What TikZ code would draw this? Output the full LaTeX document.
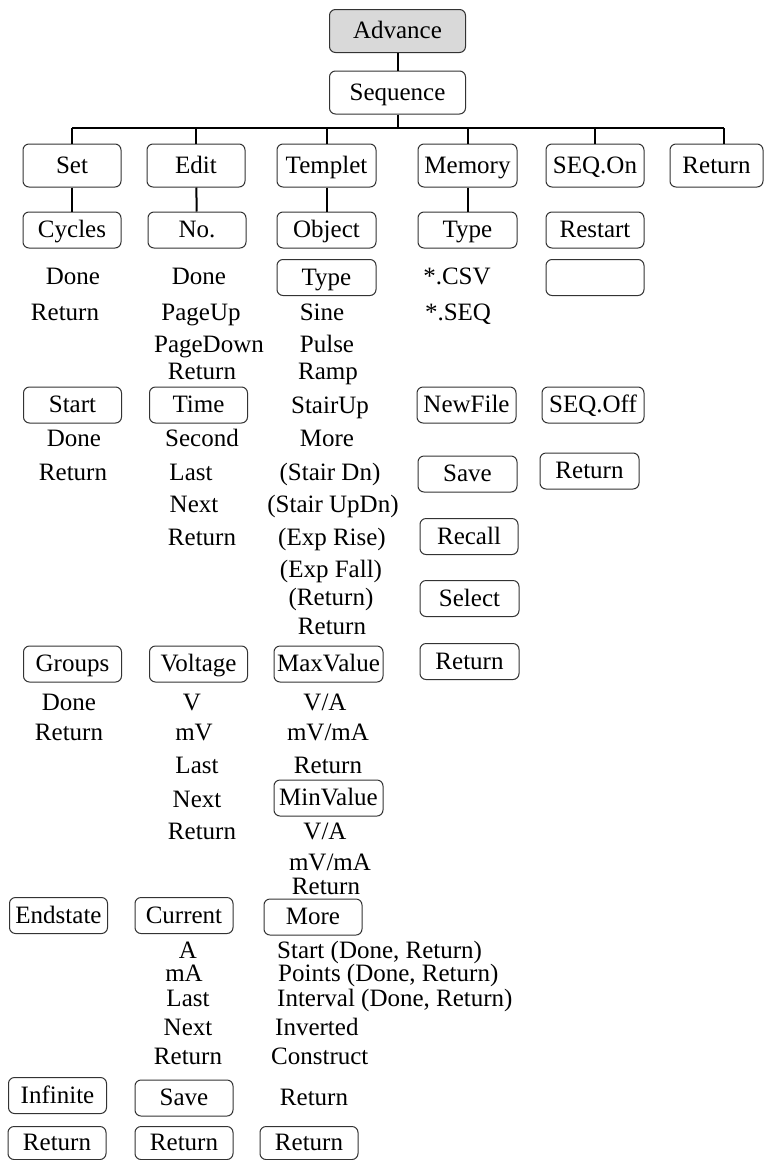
\documentclass[tikz,border=0pt]{standalone}
\usepackage{fontspec}
\setmainfont{Liberation Serif}
\usetikzlibrary{positioning}
\tikzset{menu/.style = {draw=black!80, rounded corners=6pt, line width=1pt,
                        inner sep=0pt, minimum width=98pt, minimum height=36pt,
                        text height=19.5pt, text depth=4pt}}
\tikzset{tall/.style = {menu, minimum height=43pt}}
\tikzset{item/.style = {inner sep=0pt, text height=19.5pt, text depth=4pt}}
\tikzset{link/.style = {line width=2pt}}

\begin{document}
\begin{tikzpicture}[x=1pt, y=-1pt, font=\fontsize{25}{30}\selectfont]
      \useasboundingbox (0,0) rectangle (765,1160);
      \node[tall, fill=black!15, minimum width=136pt] (adv) at (397.5,31) {Advance};
      \node[tall, minimum width=136pt] (seq) at (397.5,92.5) {Sequence};
      \coordinate (bar) at (0,128);
      \node[tall] (set) at (72,165.5) {Set};
      \node[tall] (edit) at (196,165.5) {Edit};
      \node[tall, minimum width=99pt] (templet) at (326.5,165.5) {Templet};
      \node[tall, minimum width=99pt] (memory) at (467.5,165.5) {Memory};
      \node[tall] (seqon) at (595,165.5) {SEQ.On};
      \node[tall, minimum width=93pt] (ret) at (716.5,165.5) {Return};
      \draw[link] (adv) -- (seq);
      \draw[link] (seq.south) -- (seq.south |- bar);
      \draw[link] (set.north |- bar) -- ([xshift=7pt]ret.north |- bar);
      \draw[link] (set.north) -- (set.north |- bar);
      \draw[link] (edit.north) -- (edit.north |- bar);
      \draw[link] (templet.north) -- (templet.north |- bar);
      \draw[link] (memory.north) -- (memory.north |- bar);
      \draw[link] (seqon.north) -- (seqon.north |- bar);
      \draw[link] ([xshift=7pt]ret.north) -- ([xshift=7pt]ret.north |- bar);
      % Set
      \node[menu] (cycles) at (72,230) {Cycles};
      \draw[link] (set) -- (cycles);
      \node[item] (cdone) at (73,277) {Done};
      \node[item] (cret) at (65,313) {Return};
      \node[menu] (start) at (72.5,405) {Start};
      \node[item] (sdone) at (74,439) {Done};
      \node[item] (sret) at (73,473) {Return};
      \node[menu] (groups) at (72.5,664) {Groups};
      \node[item] (gdone) at (69,703) {Done};
      \node[item] (gret) at (69,733) {Return};
      \node[menu] (endstate) at (58.5,915.5) {Endstate};
      \node[menu] (infinite) at (57.5,1095.5) {Infinite};
      \node[menu, minimum height=33pt] (setret) at (57,1143) {Return};
      % Edit
      \node[menu] (no) at (197,230) {No.};
      \draw[link] (edit) -- (no);
      \node[item] (ndone) at (199,277) {Done};
      \node[item] (pgup) at (201,313) {PageUp};
      \node[item] (pgdn) at (209,345) {PageDown};
      \node[item] (nret) at (202,372) {Return};
      \node[menu] (time) at (198.5,405) {Time};
      \node[item] (second) at (202,439) {Second};
      \node[item] (tlast) at (191,473) {Last};
      \node[item] (tnext) at (194,505) {Next};
      \node[item] (tret) at (202,538) {Return};
      \node[menu] (voltage) at (198.5,664) {Voltage};
      \node[item] (volt) at (192,703) {V};
      \node[item] (mvolt) at (194,733) {mV};
      \node[item] (vlast) at (197,766) {Last};
      \node[item] (vnext) at (197,800) {Next};
      \node[item] (vret) at (202,832) {Return};
      \node[menu] (current) at (184,915.5) {Current};
      \node[item] (amp) at (188,951) {A};
      \node[item] (mamp) at (184,974) {mA};
      \node[item] (alast) at (188,999) {Last};
      \node[item] (anext) at (188,1028) {Next};
      \node[item] (aret) at (188,1057) {Return};
      \node[menu] (esave) at (184,1098) {Save};
      \node[menu, minimum height=33pt] (editret) at (184,1143) {Return};
      % Templet
      \node[menu, minimum width=99pt] (object) at (326.5,230) {Object};
      \draw[link] (templet) -- (object);
      \node[menu, minimum width=99pt] (ttype) at (326.5,277.5) {Type};
      \node[item] (sine) at (322,313) {Sine};
      \node[item] (pulse) at (327,345) {Pulse};
      \node[item] (ramp) at (328,372) {Ramp};
      \node[item] (stairup) at (330,406) {StairUp};
      \node[item] (more) at (327,439) {More};
      \node[item] (stairdn) at (330,473) {(Stair Dn)};
      \node[item] (stairupdn) at (333,505) {(Stair UpDn)};
      \node[item] (exprise) at (332,538) {(Exp Rise)};
      \node[item] (expfall) at (331,570) {(Exp Fall)};
      \node[item] (mret) at (331,598) {(Return)};
      \node[item] (typeret) at (332,627) {Return};
      \node[menu, minimum width=109pt] (maxval) at (328.5,664) {MaxValue};
      \node[item] (maxva) at (325,703) {V/A};
      \node[item] (maxmva) at (328,733) {mV/mA};
      \node[item] (maxret) at (328,766) {Return};
      \node[menu, minimum width=109pt] (minval) at (328.5,798) {MinValue};
      \node[item] (minva) at (325,832) {V/A};
      \node[item] (minmva) at (330,863) {mV/mA};
      \node[item] (minret) at (326,887) {Return};
      \node[menu] (tmore) at (313,917) {More};
      \node[item, anchor=west] (tstart) at (277,951) {Start (Done, Return)};
      \node[item, anchor=west] (points) at (278,974) {Points (Done, Return)};
      \node[item, anchor=west] (interval) at (277,999) {Interval (Done, Return)};
      \node[item, anchor=west] (inverted) at (275,1028) {Inverted};
      \node[item, anchor=west] (construct) at (271,1057) {Construct};
      \node[item] (moreret) at (314,1098) {Return};
      \node[menu, minimum height=33pt] (templetret) at (309,1143) {Return};
      % Memory
      \node[menu, minimum width=99pt] (mtype) at (467.5,230) {Type};
      \draw[link] (memory) -- (mtype);
      \node[item] (csv) at (457,277) {*.CSV};
      \node[item] (seqf) at (458,313) {*.SEQ};
      \node[menu, minimum width=99pt] (newfile) at (466.5,405) {NewFile};
      \node[menu, minimum width=99pt] (msave) at (467.5,474) {Save};
      \node[menu] (recall) at (469,536.5) {Recall};
      \node[menu, minimum width=99pt] (select) at (469.5,598.5) {Select};
      \node[menu, minimum width=99pt] (memret) at (469.5,661.5) {Return};
      % SEQ.On
      \node[menu] (restart) at (595,230) {Restart};
      \node[menu] (blank) at (595,277.5) {};
      \node[menu, minimum width=102pt] (seqoff) at (593,405) {SEQ.Off};
      \node[menu, minimum width=99pt] (seqret) at (589.5,471) {Return};
\end{tikzpicture}
\end{document}
